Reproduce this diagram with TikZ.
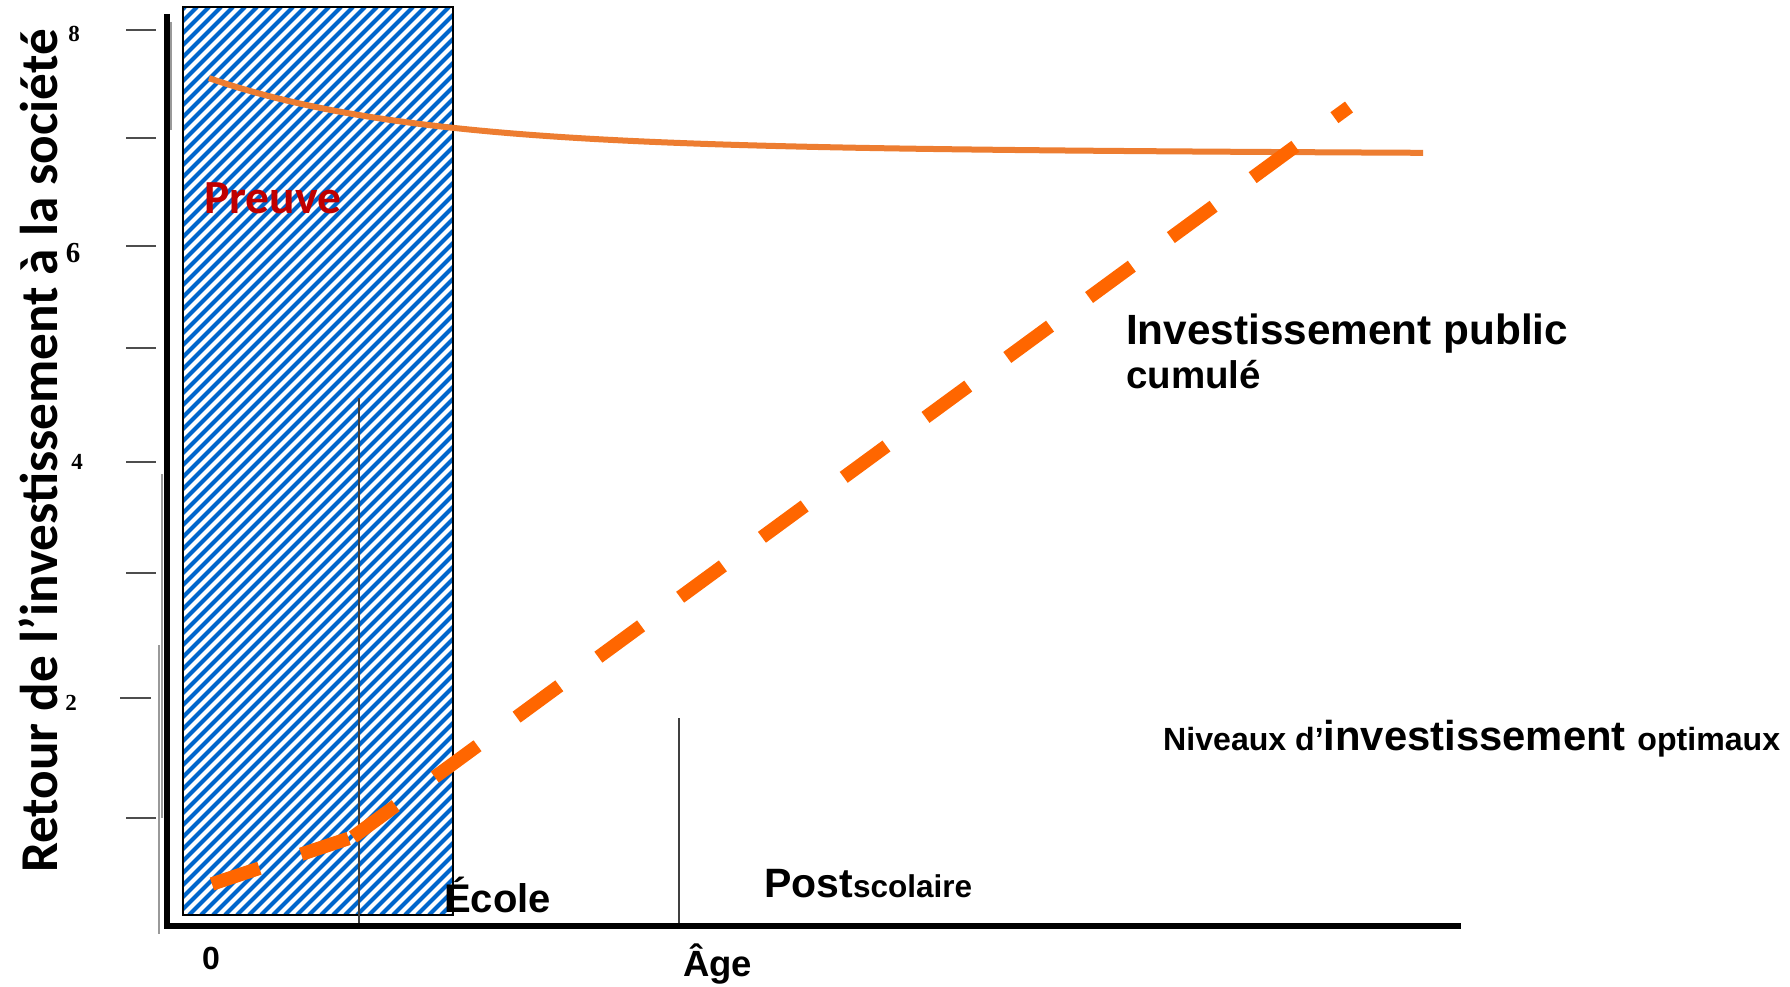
\documentclass[tikz,border=0pt]{standalone}
\usepackage{fontspec}
\setmainfont{Liberation Sans}
\newfontfamily\calib{Carlito}
\newfontfamily\tms{Liberation Serif}
\definecolor{hatchblue}{HTML}{0066CC}
\definecolor{curveorange}{HTML}{ED7D31}
\definecolor{dashorange}{HTML}{FF6600}
\definecolor{preuvered}{HTML}{C00000}
\definecolor{tickgray}{HTML}{4D4D4D}
\definecolor{thingray}{HTML}{404040}
\tikzset{
  hatchline/.style={hatchblue, line width=4.2pt},
  tickline/.style={tickgray, line width=2.2pt},
  thinline/.style={thingray, line width=1.8pt},
  faintline/.style={gray!80, line width=1.3pt},
  axisline/.style={black, line width=6.5pt, line join=miter},
  curveline/.style={curveorange, line width=6pt},
  dashline/.style={dashorange, line width=13.5pt, line cap=butt},
  lbl/.style={inner sep=0pt, font=\bfseries},
  ticklbl/.style={inner sep=0pt, font=\tms\bfseries},
}
\begin{document}
\begin{tikzpicture}[x=1pt,y=-1pt]
\fill[white] (0,0) rectangle (1790,987);
\path[use as bounding box] (0,0) rectangle (1790,987);

% hatched rectangle
\begin{scope}
  \clip (183,7) rectangle (453,915);
  \foreach \k in {-99,...,0} {
    \draw[hatchline] ({453+\k*12},915) -- ++(908,-908);
  }
\end{scope}
\draw[black, line width=2.5pt] (183,7) rectangle (453,915);

% ticks
\foreach \y/\a/\b in {30/126/156,138/126/156,246/126/156,348/126/156,462/126/156,573/126/156,698/120/151,818/126/156}
  \draw[tickline] (\a,\y) -- (\b,\y);

% faint lines beside axis
\draw[faintline] (171,22) -- (171,130);
\draw[faintline] (162,474) -- (162,818);
\draw[faintline] (159,645) -- (159,934);

% thin vertical lines
\draw[thinline] (359,398) -- (359,926);
\draw[thinline] (679,718) -- (679,926);

% axes
\draw[axisline] (167,14) -- (167,926) -- (1461,926);

% solid curve
\draw[curveline] plot[domain=209:1423, samples=100, smooth]
  (\x, {153 - 70*exp(-(\x-209)/205) - 0.004*(1423-\x)});

% dashed line
\coordinate (d0) at (212,884);
\coordinate (d1) at (353,837);
\coordinate (d2) at (1349,107);
\draw[dashline, dash pattern=on 50pt off 44pt] (d0) -- (d1);
\draw[dashline, dash pattern=on 53pt off 48.4pt] (d1) -- (d2);

% texts
\node[lbl, anchor=base west, text=preuvered, font=\calib\bfseries\fontsize{47.5}{47.5}\selectfont] (preuve) at (204,213) {Preuve};
\node[lbl, anchor=base west, font=\bfseries\fontsize{40}{40}\selectfont] (ecole) at (444,912) {École};
\node[lbl, anchor=center, font=\bfseries\fontsize{32}{32}\selectfont] (zero) at (211,958) {0};
\node[lbl, anchor=base west, font=\bfseries\fontsize{36.5}{36.5}\selectfont] (age) at (683,976) {Âge};
\node[lbl, anchor=base west] (post) at (764,897) {\fontsize{41}{41}\selectfont Post\fontsize{31.5}{31.5}\selectfont scolaire};
\node[lbl, anchor=base west, font=\bfseries\fontsize{42.3}{42.3}\selectfont] (inv1) at (1126,344) {Investissement public};
\node[lbl, anchor=base west, font=\bfseries\fontsize{38.5}{38.5}\selectfont] (inv2) at (1126,388) {cumulé};
\node[lbl, anchor=base west] (niv) at (1163,750) {\fontsize{32.1}{32.1}\selectfont Niveaux d’\fontsize{41.8}{41.8}\selectfont investissement \fontsize{32.1}{32.1}\selectfont optimaux};
\node[lbl, anchor=base west, rotate=90, font=\calib\bfseries\fontsize{53.2}{53.2}\selectfont] (ylabel) at (57,873) {Retour de l’investissement à la société};

% tick labels
\node[ticklbl, font=\tms\bfseries\fontsize{23}{23}\selectfont] (t8) at (74,34) {8};
\node[ticklbl, font=\tms\bfseries\fontsize{29}{29}\selectfont] (t6) at (73,253) {6};
\node[ticklbl, font=\tms\bfseries\fontsize{23}{23}\selectfont] (t4) at (77,462) {4};
\node[ticklbl, font=\tms\bfseries\fontsize{23}{23}\selectfont] (t2) at (71,703) {2};
\end{tikzpicture}
\end{document}
